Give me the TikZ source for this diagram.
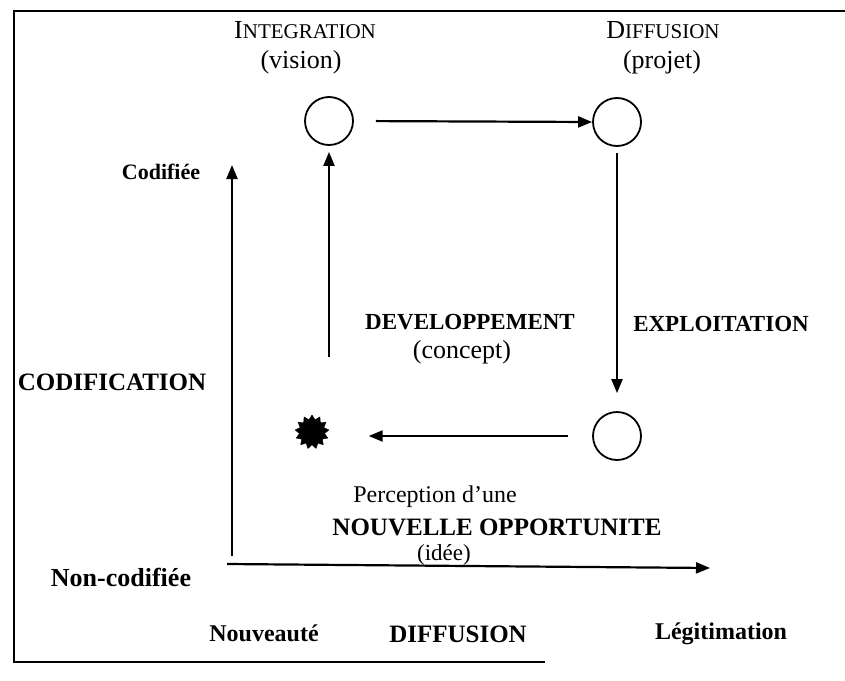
\documentclass[tikz,border=0pt]{standalone}
\usepackage{fontspec}
\setmainfont{Liberation Serif}
\usetikzlibrary{arrows.meta,shapes.geometric}
\newcommand{\fsz}[1]{\fontsize{#1}{#1}\selectfont}
\begin{document}
\begin{tikzpicture}[x=1pt,y=-1pt,
  flow/.style={line width=2.2pt,-{Triangle[length=14pt,width=11pt]}},
  axis/.style={line width=2.2pt,-{Triangle[length=14pt,width=11pt]}},
  state/.style={circle,draw,line width=1.8pt,minimum size=48pt,inner sep=0pt},
  lab/.style={font=\fsz{26},inner sep=0pt,anchor=center},
  blab/.style={font=\fsz{23}\bfseries,inner sep=0pt,anchor=center},
  frame/.style={line width=1.8pt}]
\useasboundingbox (0,0) rectangle (845,680);

% open frame: top, left and bottom edges
\draw[frame] (845,11) -- (14,11) -- (14,662) -- (545,662);

% the four stages of the cycle
\node[state] (int) at (329,121) {};
\node[state] (dif) at (617,122) {};
\node[state] (exp) at (617,436) {};
\node[star,star points=13,star point ratio=1.35,fill=black,draw=black,
      minimum size=34pt,inner sep=0pt] (idea) at (312,432) {};

% cycle arrows
\draw[flow,shorten <=22pt] (int.east) -- (dif.west);
\draw[flow,shorten <=6pt,shorten >=18pt] (dif.south) -- (exp.north);
\draw[flow,shorten <=24pt,shorten >=42pt] (exp.west) -- (exp.west -| idea.east);
\draw[flow,shorten >=6pt] (int.south |- 0,357) -- (int.south);

% axes
\coordinate (vbot) at (232,556);
\coordinate (vtop) at (232,165);
\coordinate (hleft) at (227,564);
\coordinate (hright) at (710,568);
\draw[axis] (vbot) -- (vtop);
\draw[axis] (hleft) -- (hright);

% stage labels
\node[lab] (tint) at (305,30) {I{\fsz{21}NTEGRATION}};
\node[lab] (tvis) at (301,62) {(vision)};
\node[lab] (tdif) at (663,30) {D{\fsz{21}IFFUSION}};
\node[lab] (tpro) at (662,62) {(projet)};
\node[blab] (tdev) at (470,322) {DEVELOPPEMENT};
\node[lab] (tcon) at (462,352) {(concept)};
\node[blab] (texp) at (721,324) {EXPLOITATION};
\node[lab,font=\fsz{24}] (tper) at (435,497) {Perception d'une};
\node[blab,font=\fsz{25}\bfseries] (tnou) at (497,527) {NOUVELLE OPPORTUNITE};
\node[lab,font=\fsz{23}] (tide) at (444,555) {(idée)};

% axis labels
\node[blab,font=\fsz{22}\bfseries] (tcod) at (161,172) {Codifiée};
\node[blab,font=\fsz{25}\bfseries] (tcdf) at (112,382) {CODIFICATION};
\node[blab,font=\fsz{26}\bfseries] (tnon) at (121,577) {Non-codifiée};
\node[blab,font=\fsz{24}\bfseries] (tnvt) at (264,633) {Nouveauté};
\node[blab,font=\fsz{25}\bfseries] (tdfs) at (458,634) {DIFFUSION};
\node[blab,font=\fsz{24}\bfseries] (tleg) at (721,634) {Légitimation};
\end{tikzpicture}
\end{document}
